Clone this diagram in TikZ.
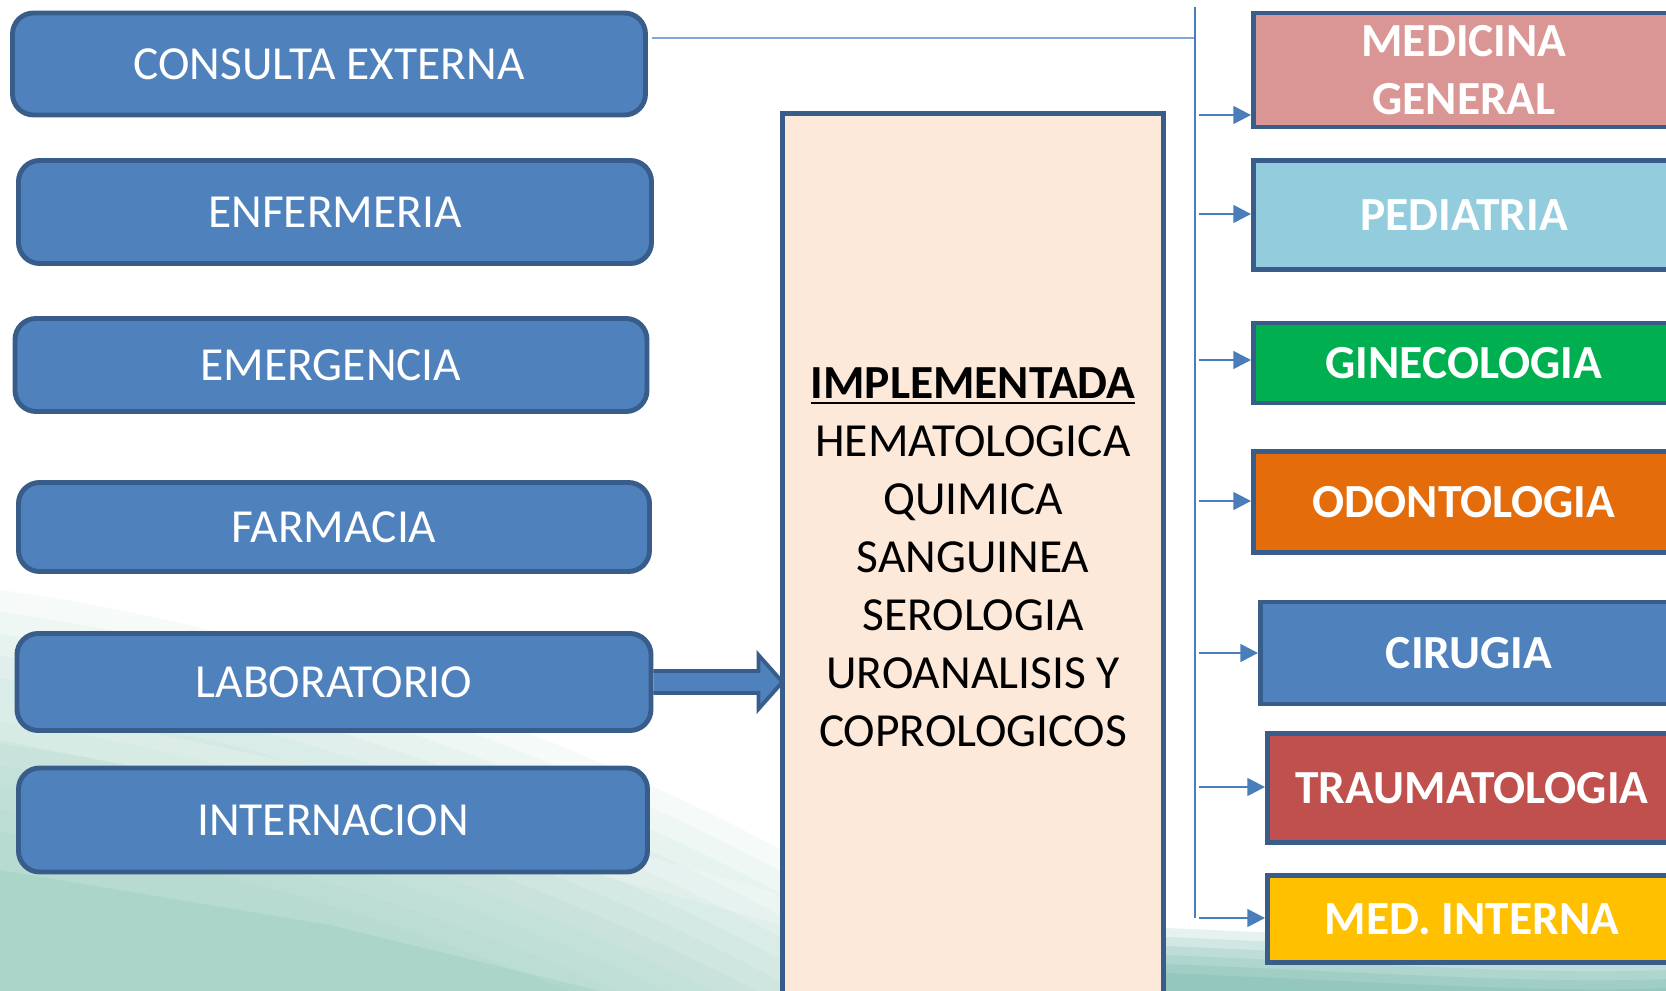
\documentclass[tikz,border=0pt]{standalone}
\usepackage{fontspec}
\setmainfont{Carlito}
\usetikzlibrary{arrows.meta,calc}

\definecolor{boxblue}{HTML}{4F81BD}
\definecolor{edgeblue}{HTML}{385D8A}
\definecolor{linkblue}{HTML}{4A7EBB}
\definecolor{toplink}{HTML}{7FA8D8}
\definecolor{labfill}{HTML}{FDE9D9}
\definecolor{bgteal}{HTML}{8CC7B8}
\definecolor{bgdark}{HTML}{45A08F}
\definecolor{cmedgen}{HTML}{D99694}
\definecolor{cpedia}{HTML}{93CDDD}
\definecolor{cgineco}{HTML}{00B050}
\definecolor{codonto}{HTML}{E46C0A}
\definecolor{ccirugia}{HTML}{4F81BD}
\definecolor{ctrauma}{HTML}{C0504D}
\definecolor{cmedint}{HTML}{FFC000}

\tikzset{
  area/.style={draw=edgeblue, line width=1.4pt, fill=boxblue, rounded corners=6pt,
    text=white, inner sep=0pt, font=\fontsize{13.5}{16.5}\selectfont},
  spec/.style={draw=edgeblue, line width=1.4pt, text=white, inner sep=0pt,
    align=center, font=\bfseries\fontsize{13.5}{16.5}\selectfont},
  link/.style={draw=linkblue, line width=0.7pt, -{Triangle[length=5pt,width=5pt]}}
}

\begin{document}
\begin{tikzpicture}[x=0.01cm, y=-0.01cm]
  \clip (0,0) rectangle (1666,991);
  % background
  \fill[white] (0,0) rectangle (1666,991);
  \foreach \k in {0,...,11}
  {
    \fill[bgteal, opacity=0.07] (0,590+\k*22) .. controls (300,630+\k*22) and (600,750+\k*22) .. (800,860+\k*22) -- (800,991) -- (0,991) -- cycle;
  }
  \fill[bgteal, opacity=0.25] (0,870) -- (330,925) -- (600,991) -- (0,991) -- cycle;
  \fill[white, opacity=0.2] (0,700) -- (420,790) -- (800,900) -- (800,930) -- (400,820) -- (0,740) -- cycle;
  \foreach \k in {0,...,5}
  {
    \fill[bgdark, opacity=0.13] (1166,928+\k*9) .. controls (1400,938+\k*9) and (1550,948+\k*9) .. (1666,943+\k*9) -- (1666,991) -- (1166,991) -- cycle;
  }

  % areas on the left
  \foreach \n/\t/\x/\y/\w/\h in {consulta/CONSULTA EXTERNA/329/64/633/102,
      enfermeria/ENFERMERIA/335/212/633/103, emergencia/EMERGENCIA/331/365/632/93,
      farmacia/FARMACIA/334/527/631/89, laboratorio/LABORATORIO/334/682/634/97,
      internacion/INTERNACION/333/820/629/104}
  {
    \node[area, minimum width=\w*0.01cm, minimum height=\h*0.01cm] (\n) at (\x,\y) {\t};
  }

  % laboratory box
  \node[draw=edgeblue, line width=1.4pt, fill=labfill, minimum width=3.80cm, minimum height=8.86cm,
    align=center, inner sep=0pt, font=\fontsize{13.5}{16.5}\selectfont] (implem) at (973,557)
    {\underline{\textbf{IMPLEMENTADA}}\\HEMATOLOGICA\\QUIMICA\\SANGUINEA\\SEROLOGIA\\UROANALISIS Y\\COPROLOGICOS};

  \draw[edgeblue, fill=boxblue, line width=1.1pt, line join=miter]
    ($(laboratorio.east)+(0,-11)$) -- ++(105,0) -- ++(0,-16) -- ($(implem.west |- laboratorio.east)+(2,0)$)
    -- ($(laboratorio.east)+(105,27)$) -- ++(0,-16) -- ($(laboratorio.east)+(0,11)$);

  % specialities on the right
  \foreach \n/\t/\x/\y/\w/\h/\c in {medgen/{MEDICINA\\GENERAL}/1464/70/421/114/cmedgen,
      pediatria/PEDIATRIA/1464/215/421/109/cpedia, gineco/GINECOLOGIA/1464/363/421/80/cgineco,
      odonto/ODONTOLOGIA/1464/502/421/101/codonto, cirugia/CIRUGIA/1469/653/417/102/ccirugia,
      trauma/TRAUMATOLOGIA/1472/788/409/109/ctrauma, medint/MED. INTERNA/1472/919/409/87/cmedint}
  {
    \node[spec, fill=\c, minimum width=\w*0.01cm, minimum height=\h*0.01cm] (\n) at (\x,\y) {\t};
  }

  % connectors
  \coordinate (trunktop) at (1195,7);
  \coordinate (trunkbot) at (1195,918);
  \coordinate (consout) at ($(consulta.east)+(4,-26)$);
  \draw[toplink, line width=0.7pt] (consout) -- (consout -| trunktop);
  \draw[linkblue, line width=0.7pt] (trunktop) -- (trunkbot);
  \foreach \n/\y in {medgen/115, pediatria/214, gineco/360, odonto/501, cirugia/653, trauma/787, medint/918}
  {
    \coordinate (s\n) at (1199,\y);
    \draw[link] (s\n) -- (s\n -| \n.west);
  }
\end{tikzpicture}
\end{document}
